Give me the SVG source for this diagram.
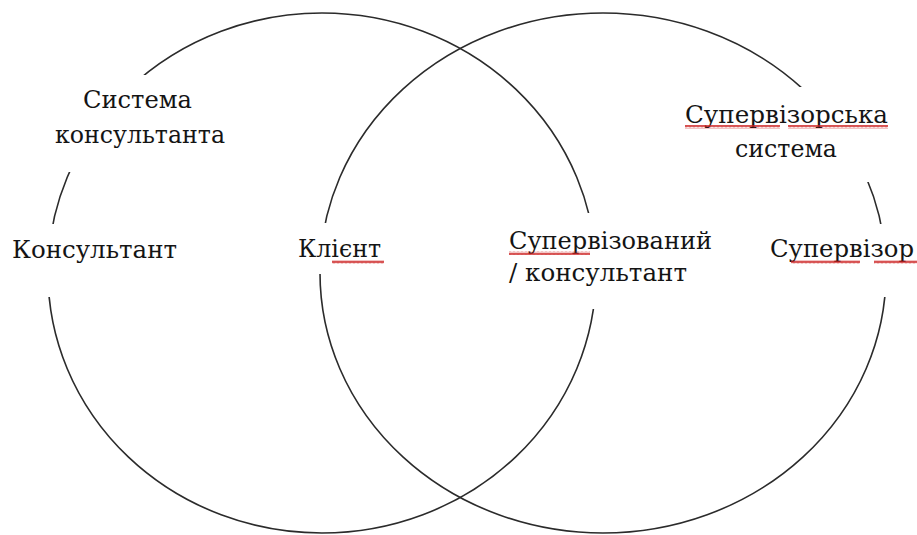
<svg xmlns="http://www.w3.org/2000/svg" width="917" height="535" viewBox="0 0 917 535">
  <defs>
    <style>
      .ring { fill: none; stroke: #2b2b2b; stroke-width: 1.6; }
      .mask { fill: #ffffff; stroke: none; }
      .lbl { font-family: "DejaVu Serif", "Liberation Serif", serif; font-size: 25px; fill: #141414; }
      .wavy { fill: url(#squiggle); }
    </style>
    <pattern id="squiggle" patternUnits="userSpaceOnUse" x="0" y="0" width="4" height="4">
      <path d="M0 3.3 L1 0.7 L2 3.3 L3 0.7 L4 3.3" fill="none" stroke="#cc1f1f" stroke-width="0.9"/>
    </pattern>
  </defs>
  <rect x="0" y="0" width="917" height="535" fill="#ffffff"/>

  <g id="circles">
    <ellipse id="consultant-system" class="ring" cx="322" cy="273" rx="274" ry="260"/>
    <ellipse id="supervisor-system" class="ring" cx="603" cy="273" rx="283" ry="260"/>
  </g>

  <g id="label-masks">
    <rect class="mask" x="40" y="75" width="195" height="97"/>
    <rect class="mask" x="4" y="224" width="185" height="73"/>
    <rect class="mask" x="288" y="223" width="102" height="51"/>
    <rect class="mask" x="500" y="213" width="218" height="96"/>
    <rect class="mask" x="675" y="87" width="225" height="95"/>
    <rect class="mask" x="764" y="224" width="153" height="73"/>
  </g>

  <g id="node-consultant-system">
    <text class="lbl" x="137.5" y="108" text-anchor="middle" textLength="109" lengthAdjust="spacingAndGlyphs">Система</text>
    <text class="lbl" x="140" y="143" text-anchor="middle" textLength="170" lengthAdjust="spacingAndGlyphs">консультанта</text>
  </g>
  <g id="node-consultant">
    <text class="lbl" x="12" y="258" textLength="165" lengthAdjust="spacingAndGlyphs">Консультант</text>
  </g>
  <g id="node-client">
    <text class="lbl" x="298" y="257" textLength="83" lengthAdjust="spacingAndGlyphs">Клієнт</text>
    <rect class="wavy" x="332" y="260" width="52" height="4"/>
  </g>
  <g id="node-supervisee">
    <text class="lbl" x="509" y="249" textLength="203" lengthAdjust="spacingAndGlyphs">Супервізований</text>
    <text class="lbl" x="509" y="281" textLength="178" lengthAdjust="spacingAndGlyphs">/ консультант</text>
    <rect class="wavy" x="509" y="251" width="81" height="4"/>
  </g>
  <g id="node-supervisor-system">
    <text class="lbl" x="786.5" y="123" text-anchor="middle" textLength="203" lengthAdjust="spacingAndGlyphs">Супервізорська</text>
    <text class="lbl" x="786" y="157" text-anchor="middle" textLength="102" lengthAdjust="spacingAndGlyphs">система</text>
    <rect class="wavy" x="685" y="125" width="95" height="4"/>
    <rect class="wavy" x="788" y="125" width="100" height="4"/>
  </g>
  <g id="node-supervisor">
    <text class="lbl" x="770" y="257" textLength="144" lengthAdjust="spacingAndGlyphs">Супервізор</text>
    <rect class="wavy" x="791" y="260" width="69" height="4"/>
    <rect class="wavy" x="874" y="260" width="43" height="4"/>
  </g>
</svg>
